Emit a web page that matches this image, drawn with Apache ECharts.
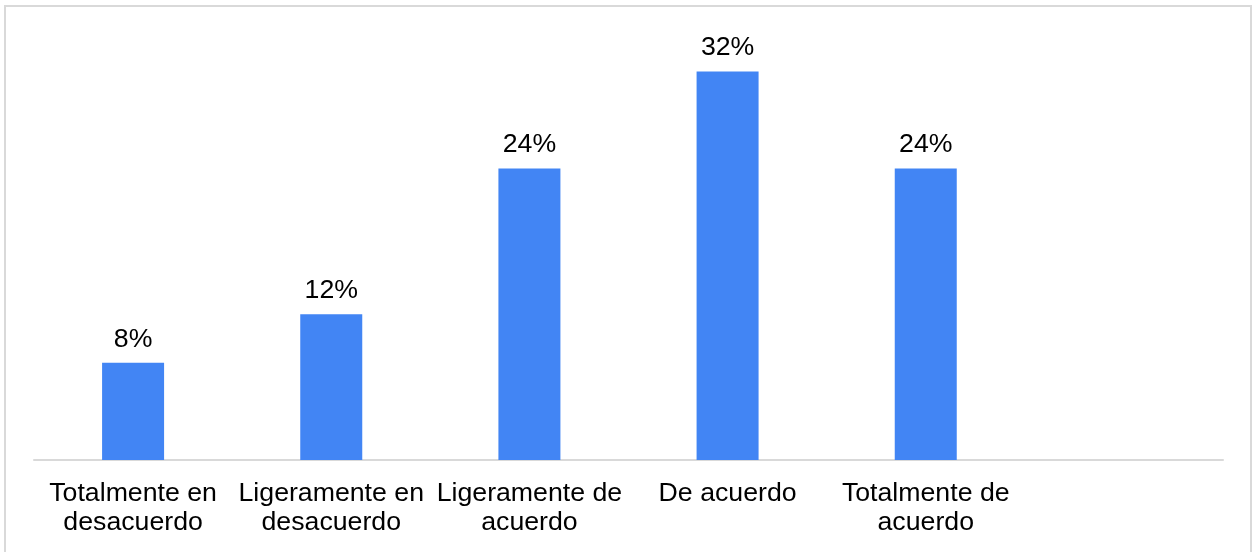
<!DOCTYPE html>
<html>
<head>
<meta charset="utf-8">
<style>
  html, body { margin: 0; padding: 0; background: #ffffff; }
  #chart { width: 1253px; height: 552px; }
</style>
<script src="https://cdn.jsdelivr.net/npm/echarts@6/dist/echarts.min.js"></script>
</head>
<body>
<div id="chart"></div>
<script>
// Survey answers on a five-point agreement scale (the sixth slot is left empty)
const categories = [
  'Totalmente en\ndesacuerdo',
  'Ligeramente en\ndesacuerdo',
  'Ligeramente de\nacuerdo',
  'De acuerdo',
  'Totalmente de\nacuerdo',
  ''
];
const percentages = [8, 12, 24, 32, 24, null];

const chart = echarts.init(document.getElementById('chart'));
chart.setOption({
  animation: false,
  backgroundColor: '#ffffff',
  textStyle: { fontFamily: '"Liberation Sans", Arial, sans-serif' },
  graphic: [{
    type: 'rect',
    shape: { x: 5, y: 6, width: 1246, height: 600 },
    style: { fill: 'none', stroke: '#d9d9d9', lineWidth: 2 },
    silent: true
  }],
  grid: { left: 34, right: 30, top: 35, bottom: 92, containLabel: false },
  xAxis: {
    type: 'category',
    data: categories,
    axisLine: { show: true, lineStyle: { color: '#d9d9d9', width: 2 } },
    axisTick: { show: false },
    axisLabel: {
      interval: 0,
      color: '#000000',
      fontSize: 26.7,
      lineHeight: 29,
      margin: 19,
      fontFamily: '"Liberation Sans", Arial, sans-serif'
    }
  },
  yAxis: {
    type: 'value',
    min: 0,
    max: 35,
    show: false,
    splitLine: { show: false }
  },
  series: [{
    type: 'bar',
    data: percentages,
    barWidth: 62,
    itemStyle: { color: '#4285f4' },
    label: {
      show: true,
      position: 'top',
      distance: 10,
      color: '#000000',
      fontSize: 26.7,
      fontFamily: '"Liberation Sans", Arial, sans-serif',
      formatter: p => p.value + '%'
    }
  }]
});
</script>
</body>
</html>
